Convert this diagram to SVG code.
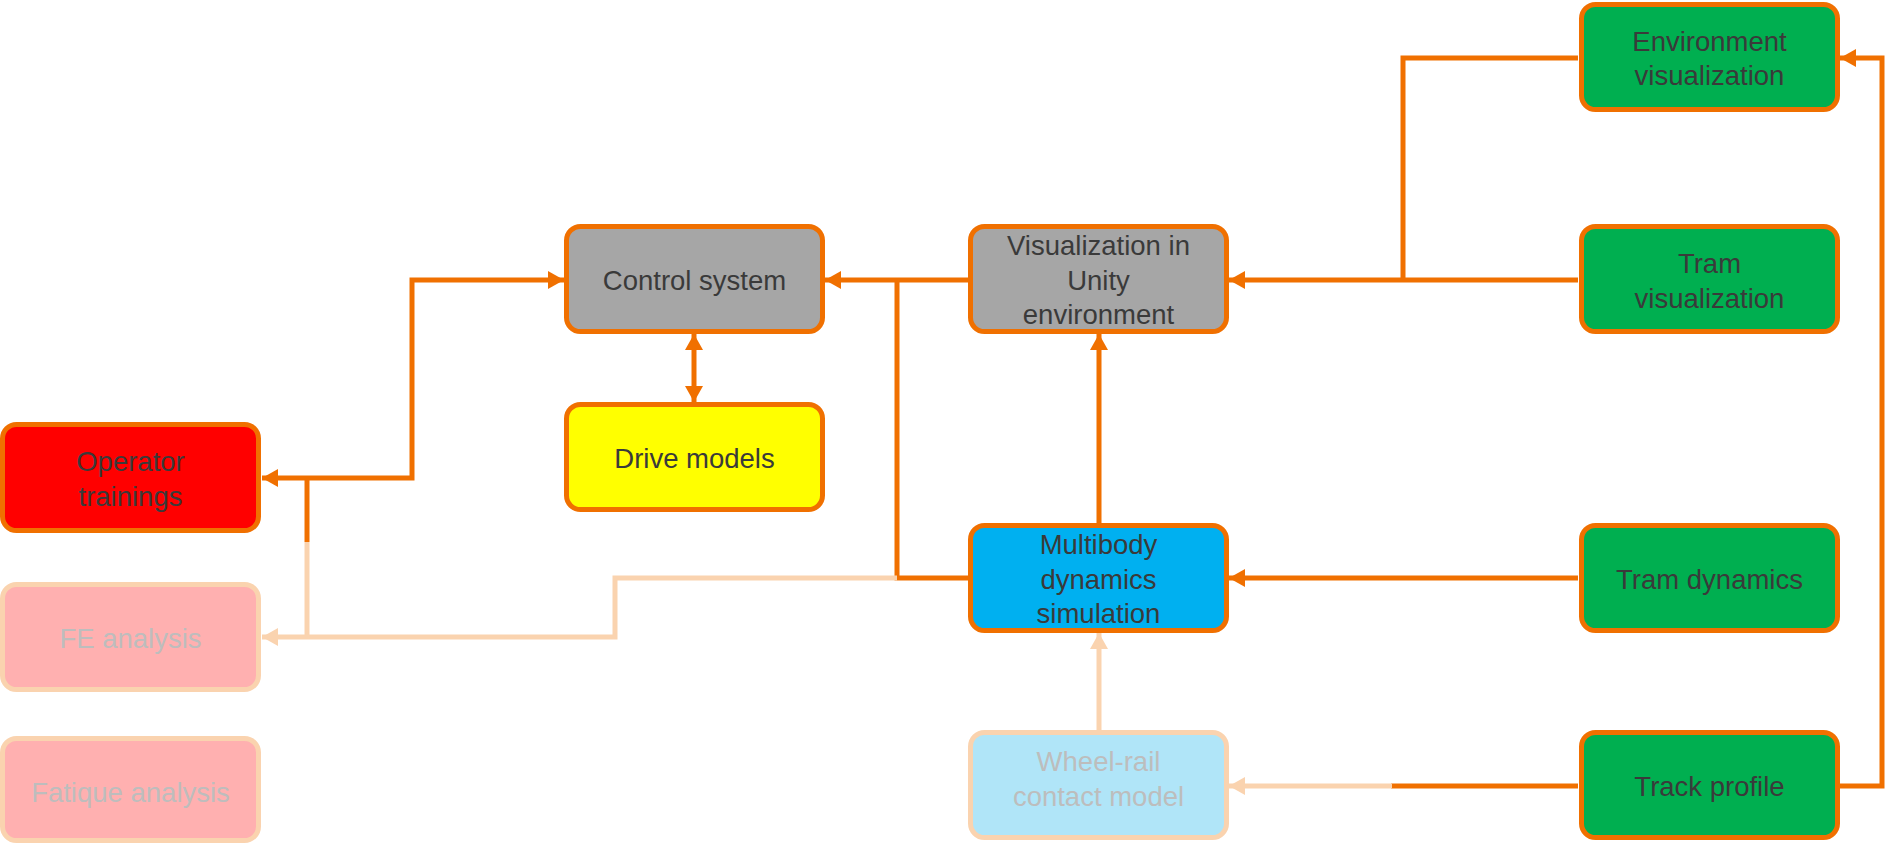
<svg xmlns="http://www.w3.org/2000/svg" width="1886" height="843" viewBox="0 0 1886 843">
<style>
.box{stroke:#F07000;stroke-width:5}
.pbox{stroke:#FAD3AF;stroke-width:5}
.t{font-family:"Liberation Sans",Arial,sans-serif;font-size:27.5px;fill:#3A3A3A;text-anchor:middle}
.pt{font-family:"Liberation Sans",Arial,sans-serif;font-size:27.5px;fill:#BDBDBD;text-anchor:middle}
.c{fill:none;stroke:#F07000;stroke-width:5}
.pc{fill:none;stroke:#FAD3AF;stroke-width:5}
</style>
<defs>
<marker id="a" markerUnits="userSpaceOnUse" markerWidth="16" markerHeight="18" refX="16" refY="9" orient="auto-start-reverse" viewBox="0 0 16 18"><path d="M0,0 L16,9 L0,18 z" fill="#F07000"/></marker>
<marker id="pa" markerUnits="userSpaceOnUse" markerWidth="16" markerHeight="18" refX="16" refY="9" orient="auto-start-reverse" viewBox="0 0 16 18"><path d="M0,0 L16,9 L0,18 z" fill="#FAD3AF"/></marker>
</defs>
<rect width="1886" height="843" fill="#FFFFFF"/>
<g id="connectors">
<path class="c" d="M968,280 H825" marker-end="url(#a)"/>
<path class="c" d="M968,578 H897 V280"/>
<path class="c" d="M262,478 H412 V280 H564" marker-start="url(#a)" marker-end="url(#a)"/>
<path class="c" d="M307,478 V542"/>
<path class="pc" d="M307,542 V637"/>
<path class="pc" d="M897,578 H615 V637 H262" marker-end="url(#pa)"/>
<path class="c" d="M694,334 V402" marker-start="url(#a)" marker-end="url(#a)"/>
<path class="c" d="M1099,523 V334" marker-end="url(#a)"/>
<path class="c" d="M1578,58 H1403 V280"/>
<path class="c" d="M1578,280 H1229" marker-end="url(#a)"/>
<path class="c" d="M1578,578 H1229" marker-end="url(#a)"/>
<path class="pc" d="M1099,730 V633" marker-end="url(#pa)"/>
<path class="c" d="M1578,786 H1391"/>
<path class="pc" d="M1392,786 H1229" marker-end="url(#pa)"/>
<path class="c" d="M1840,786 H1882 V58 H1840" marker-end="url(#a)"/>
</g>
<g id="env-vis"><rect class="box" x="1581.5" y="4.5" width="256" height="105" rx="14" fill="#00AF50"/><text class="t" x="1709.5" y="50.5">Environment</text><text class="t" x="1709.5" y="85">visualization</text></g>
<g id="control-system"><rect class="box" x="566.5" y="226.5" width="256" height="105" rx="14" fill="#A6A6A6"/><text class="t" x="694.5" y="290">Control system</text></g>
<g id="unity-vis"><rect class="box" x="970.5" y="226.5" width="256" height="105" rx="14" fill="#A6A6A6"/><text class="t" x="1098.5" y="255">Visualization in</text><text class="t" x="1098.5" y="289.5">Unity</text><text class="t" x="1098.5" y="324">environment</text></g>
<g id="tram-vis"><rect class="box" x="1581.5" y="226.5" width="256" height="105" rx="14" fill="#00AF50"/><text class="t" x="1709.5" y="273">Tram</text><text class="t" x="1709.5" y="307.5">visualization</text></g>
<g id="drive-models"><rect class="box" x="566.5" y="404.5" width="256" height="105" rx="14" fill="#FFFF00"/><text class="t" x="694.5" y="468">Drive models</text></g>
<g id="operator"><rect class="box" x="2.5" y="424.5" width="256" height="106" rx="14" fill="#FF0000"/><text class="t" x="130.5" y="471">Operator</text><text class="t" x="130.5" y="505.5">trainings</text></g>
<g id="multibody"><rect class="box" x="970.5" y="525.5" width="256" height="105" rx="14" fill="#00B0F0"/><text class="t" x="1098.5" y="554">Multibody</text><text class="t" x="1098.5" y="588.5">dynamics</text><text class="t" x="1098.5" y="623">simulation</text></g>
<g id="tram-dynamics"><rect class="box" x="1581.5" y="525.5" width="256" height="105" rx="14" fill="#00AF50"/><text class="t" x="1709.5" y="589">Tram dynamics</text></g>
<g id="fe-analysis"><rect class="pbox" x="2.5" y="584.5" width="256" height="105" rx="14" fill="#FFB0B0"/><text class="pt" x="130.5" y="648">FE analysis</text></g>
<g id="fatique"><rect class="pbox" x="2.5" y="738.5" width="256" height="102" rx="14" fill="#FFB0B0"/><text class="pt" x="130.5" y="802">Fatique analysis</text></g>
<g id="wheel-rail"><rect class="pbox" x="970.5" y="732.5" width="256" height="105" rx="14" fill="#B0E5F8"/><text class="pt" x="1098.5" y="771">Wheel-rail</text><text class="pt" x="1098.5" y="805.5">contact model</text></g>
<g id="track-profile"><rect class="box" x="1581.5" y="732.5" width="256" height="105" rx="14" fill="#00AF50"/><text class="t" x="1709.5" y="796">Track profile</text></g>
</svg>
